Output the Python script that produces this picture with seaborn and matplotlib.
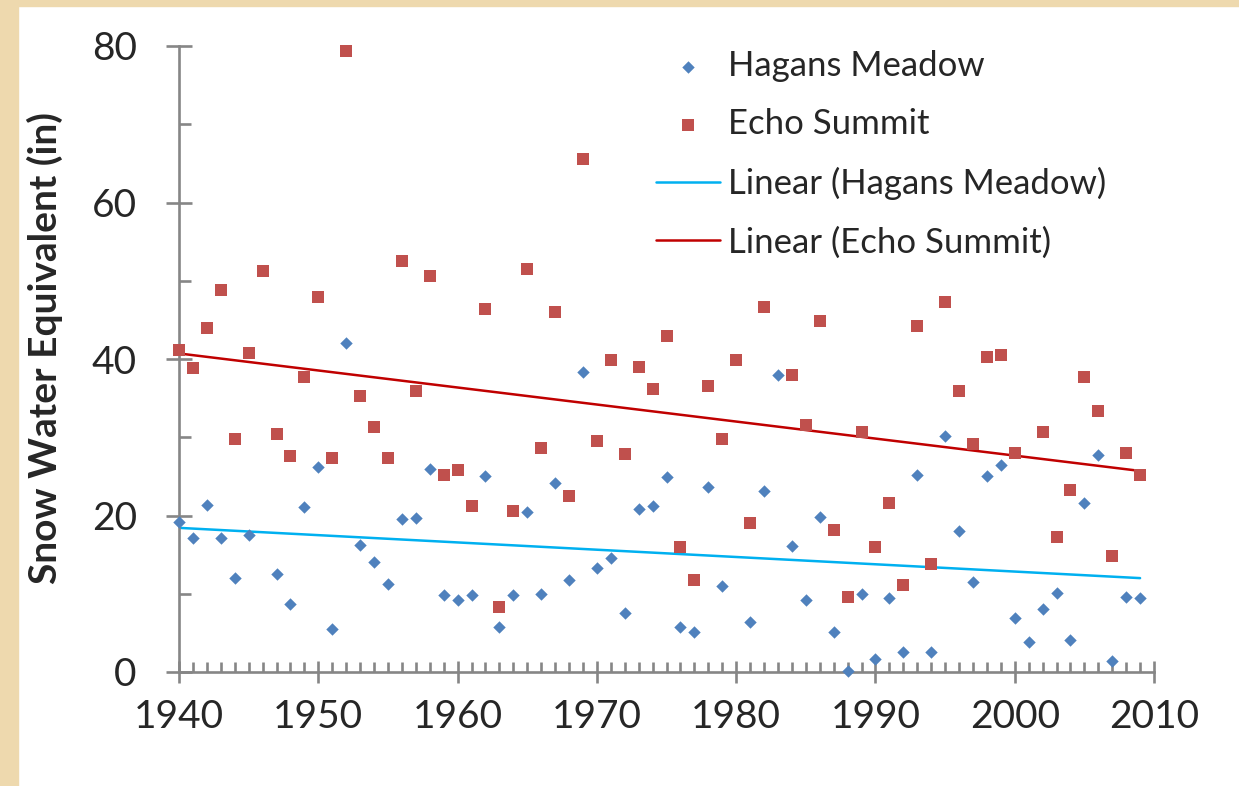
import matplotlib.pyplot as plt
import numpy as np
import pandas as pd
import seaborn as sns
from matplotlib.patches import Rectangle

years = list(range(1940, 2010))
hagans_meadow = [
    19.2, 17.1, 21.4, 17.1, 12.0, 17.5, np.nan, 12.5, 8.7, 21.1,
    26.2, 5.5, 42.1, 16.2, 14.1, 11.2, 19.5, 19.7, 26.0, 9.8,
    9.2, 9.8, 25.1, 5.8, 9.9, 20.4, 10.0, 24.1, 11.8, 38.4,
    13.3, 14.6, 7.6, 20.8, 21.2, 24.9, 5.7, 5.1, 23.6, 11.0,
    np.nan, 6.4, 23.1, 37.9, 16.1, 9.2, 19.8, 5.1, 0.1, 10.0,
    1.6, 9.5, 2.6, 25.2, 2.6, 30.1, 18.0, 11.5, 25.0, 26.5,
    6.9, 3.8, 8.0, 10.1, 4.1, 21.6, 27.7, 1.4, 9.6, 9.4,
]
echo_summit = [
    41.1, 38.9, 43.9, 48.8, 29.8, 40.8, 51.2, 30.4, 27.6, 37.7,
    47.9, 27.3, 79.4, 35.3, 31.3, 27.3, 52.5, 35.9, 50.6, 25.2,
    25.8, 21.2, 46.4, 8.3, 20.6, 51.5, 28.6, 46.0, 22.5, 65.6,
    29.5, 39.9, 27.9, 39.0, 36.2, 42.9, 16.0, 11.7, 36.5, 29.8,
    39.9, 19.1, 46.6, np.nan, 38.0, 31.6, 44.8, 18.1, 9.6, 30.7,
    16.0, 21.6, 11.1, 44.2, 13.8, 47.3, 35.9, 29.2, 40.2, 40.5,
    28.0, np.nan, 30.7, 17.3, 23.3, 37.7, 33.4, 14.8, 28.0, 25.2,
]
x_ticks = [1940, 1950, 1960, 1970, 1980, 1990, 2000, 2010]
y_ticks = [0, 20, 40, 60, 80]

sns.set_style("white")
plt.rcParams["font.family"] = ["Lato", "DejaVu Sans"]

df = pd.DataFrame({"year": years, "hagans": hagans_meadow, "echo": echo_summit})

W, H = 1239, 786
fig = plt.figure(figsize=(W / 100, H / 100), dpi=100)
tan = "#EED9AE"
fig.add_artist(Rectangle((0, 0), 18 / W, 1, transform=fig.transFigure, color=tan, zorder=0))
fig.add_artist(Rectangle((0, 1 - 6 / H), 1, 6 / H, transform=fig.transFigure, color=tan, zorder=0))

ax = fig.add_axes([179 / W, 1 - 672 / H, 975 / W, 626 / H])
ax.set_facecolor("none")

sns.regplot(data=df, x="year", y="hagans", scatter=False, ci=None, truncate=True, ax=ax,
            label="Linear (Hagans Meadow)", line_kws=dict(color="#00B0F0", lw=1.8))
sns.regplot(data=df, x="year", y="echo", scatter=False, ci=None, truncate=True, ax=ax,
            label="Linear (Echo Summit)", line_kws=dict(color="#C00000", lw=1.8))
sns.scatterplot(data=df, x="year", y="hagans", marker="D", s=40, color="#4F81BD",
                linewidth=0, ax=ax, clip_on=False, zorder=4, label="Hagans Meadow")
sns.scatterplot(data=df, x="year", y="echo", marker="s", s=72, color="#C0504D",
                linewidth=0, ax=ax, clip_on=False, zorder=4, label="Echo Summit")

ax.set_xlim(1940, 2010)
ax.set_ylim(0, 80)
ax.set_xticks(x_ticks)
ax.set_yticks(y_ticks)
ax.set_xticks(range(1940, 2011), minor=True)
ax.set_yticks(range(10, 80, 20), minor=True)

gray = "#868686"
for side in ["top", "right"]:
    ax.spines[side].set_visible(False)
for side in ["left", "bottom"]:
    ax.spines[side].set_color(gray)
    ax.spines[side].set_linewidth(1.9)

ax.tick_params(axis="y", which="major", left=True, direction="inout", length=18.7, width=1.9,
               color=gray, labelsize=28, pad=21)
ax.tick_params(axis="y", which="minor", left=True, direction="in", length=8.4, width=1.9,
               color=gray)
ax.tick_params(axis="x", which="major", bottom=True, direction="inout", length=16.5,
               width=1.9, color=gray, labelsize=28, pad=11)
ax.tick_params(axis="x", which="minor", bottom=True, direction="in", length=7, width=1.9,
               color=gray)

ax.set_xlabel("")
ax.set_ylabel("Snow Water Equivalent (in)", fontsize=28, fontweight="bold")
ax.yaxis.set_label_coords(-0.119, 0.518)

handles, labels = ax.get_legend_handles_labels()
order = ["Hagans Meadow", "Echo Summit", "Linear (Hagans Meadow)", "Linear (Echo Summit)"]
hmap = dict(zip(labels, handles))
ax.legend([hmap[k] for k in order], order, loc="upper left",
          bbox_to_anchor=(656 / W, 1 - 50 / H), bbox_transform=fig.transFigure,
          frameon=False, fontsize=25, handlelength=1.84, handletextpad=0.23,
          labelspacing=0.76, borderpad=0, borderaxespad=0, scatterpoints=1)

fig.savefig("out.png", dpi=100, facecolor="white")
